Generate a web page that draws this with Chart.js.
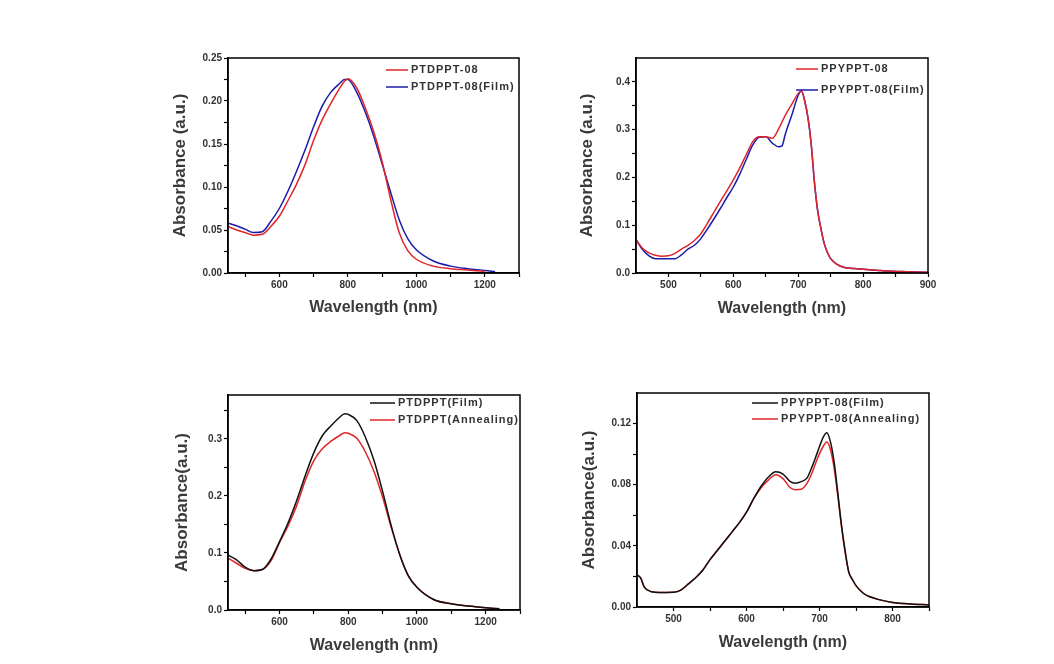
<!DOCTYPE html>
<html>
<head>
<meta charset="utf-8">
<script src="https://cdn.jsdelivr.net/npm/chart.js@4/dist/chart.umd.min.js"></script>
<style>
  body { margin: 0; background: #fff; width: 1054px; height: 664px; position: relative; overflow: hidden; }
  canvas { position: absolute; }
</style>
</head>
<body>
<canvas id="p1" width="380" height="290" style="left:160px;top:40px"></canvas>
<canvas id="p2" width="380" height="290" style="left:570px;top:40px"></canvas>
<canvas id="p3" width="380" height="290" style="left:160px;top:370px"></canvas>
<canvas id="p4" width="380" height="290" style="left:570px;top:370px"></canvas>
<script>
// top left: PTDPPT-08 solution vs film
const p1Wavelength = [450, 475, 500, 525, 550, 575, 600, 625, 650, 675, 700, 725, 750, 775, 790, 800, 825, 850, 875, 900, 925, 950, 975, 1000, 1050, 1100, 1150, 1200, 1230];
const p1Solution = [0.054, 0.050, 0.047, 0.044, 0.045, 0.054, 0.066, 0.084, 0.103, 0.126, 0.154, 0.178, 0.197, 0.214, 0.223, 0.226, 0.216, 0.193, 0.165, 0.130, 0.086, 0.047, 0.026, 0.016, 0.008, 0.005, 0.0035, 0.002, null];
const p1Film = [0.058, 0.055, 0.051, 0.047, 0.048, 0.060, 0.075, 0.095, 0.118, 0.143, 0.170, 0.194, 0.210, 0.220, 0.225, 0.225, 0.211, 0.188, 0.160, 0.127, 0.094, 0.062, 0.040, 0.027, 0.014, 0.008, 0.005, 0.003, 0.0015];

// top right: PPYPPT-08 solution vs film
const p2Wavelength = [450, 460, 470, 480, 490, 500, 510, 520, 530, 540, 550, 560, 570, 580, 590, 600, 610, 620, 630, 640, 650, 660, 670, 675, 680, 690, 700, 705, 710, 715, 720, 725, 730, 735, 740, 745, 750, 760, 770, 780, 790, 800, 820, 840, 860, 880, 900];
const p2Solution = [0.070, 0.052, 0.042, 0.037, 0.035, 0.036, 0.041, 0.050, 0.058, 0.068, 0.082, 0.104, 0.127, 0.150, 0.172, 0.195, 0.220, 0.248, 0.275, 0.285, 0.285, 0.282, 0.302, 0.316, 0.330, 0.353, 0.376, 0.381, 0.360, 0.325, 0.270, 0.190, 0.130, 0.093, 0.062, 0.043, 0.030, 0.018, 0.012, 0.010, 0.009, 0.008, 0.006, 0.004, 0.003, 0.002, 0.0015];
const p2Film = [0.070, 0.049, 0.036, 0.030, 0.030, 0.030, 0.030, 0.038, 0.050, 0.058, 0.072, 0.092, 0.113, 0.135, 0.158, 0.180, 0.207, 0.238, 0.268, 0.284, 0.285, 0.272, 0.264, 0.266, 0.290, 0.330, 0.372, 0.381, 0.360, 0.325, 0.270, 0.190, 0.130, 0.093, 0.062, 0.043, 0.030, 0.018, 0.012, 0.010, 0.009, 0.008, 0.006, 0.004, 0.003, 0.002, 0.0015];

// bottom left: PTDPPT film vs annealing
const p3Wavelength = [450, 475, 500, 525, 550, 575, 600, 625, 650, 675, 700, 725, 750, 775, 790, 800, 825, 850, 875, 900, 925, 950, 975, 1000, 1050, 1100, 1150, 1200, 1240];
const p3Film = [0.096, 0.088, 0.075, 0.069, 0.071, 0.089, 0.120, 0.153, 0.192, 0.236, 0.276, 0.306, 0.323, 0.338, 0.344, 0.343, 0.332, 0.303, 0.262, 0.208, 0.148, 0.097, 0.060, 0.040, 0.018, 0.011, 0.007, 0.004, 0.002];
const p3Annealing = [0.091, 0.082, 0.073, 0.069, 0.071, 0.086, 0.118, 0.148, 0.183, 0.227, 0.262, 0.283, 0.296, 0.306, 0.311, 0.310, 0.301, 0.277, 0.243, 0.198, 0.145, 0.097, 0.060, 0.040, 0.018, 0.011, 0.007, 0.004, 0.002];

// bottom right: PPYPPT-08 film vs annealing
const p4Wavelength = [450, 455, 460, 470, 480, 490, 500, 510, 520, 530, 540, 550, 560, 570, 580, 590, 600, 610, 620, 630, 640, 650, 660, 667, 675, 683, 690, 697, 705, 710, 715, 720, 725, 730, 735, 740, 745, 750, 760, 770, 780, 800, 825, 850];
const p4Film = [0.021, 0.019, 0.013, 0.010, 0.0095, 0.0095, 0.0096, 0.011, 0.015, 0.019, 0.024, 0.031, 0.037, 0.043, 0.049, 0.055, 0.062, 0.071, 0.079, 0.085, 0.0885, 0.087, 0.082, 0.081, 0.082, 0.0845, 0.092, 0.101, 0.111, 0.114, 0.108, 0.095, 0.075, 0.054, 0.037, 0.023, 0.018, 0.014, 0.009, 0.0065, 0.005, 0.003, 0.002, 0.0015];
const p4Annealing = [0.021, 0.019, 0.013, 0.010, 0.0095, 0.0095, 0.0096, 0.011, 0.015, 0.019, 0.024, 0.031, 0.037, 0.043, 0.049, 0.055, 0.062, 0.071, 0.078, 0.083, 0.0866, 0.084, 0.078, 0.0767, 0.077, 0.081, 0.088, 0.097, 0.105, 0.108, 0.103, 0.091, 0.073, 0.053, 0.036, 0.023, 0.018, 0.014, 0.009, 0.0065, 0.005, 0.003, 0.002, 0.0015];

// axis ticks (major ones get a label)
const p1XMajor = [600, 800, 1000, 1200];
const p1XMinor = [500, 700, 900, 1100, 1300];
const p1YMajor = [0, 0.05, 0.10, 0.15, 0.20, 0.25];
const p1YMinor = [0.025, 0.075, 0.125, 0.175, 0.225];
const p2XMajor = [500, 600, 700, 800, 900];
const p2XMinor = [550, 650, 750, 850];
const p2YMajor = [0, 0.1, 0.2, 0.3, 0.4];
const p2YMinor = [0.05, 0.15, 0.25, 0.35];
const p3XMajor = [600, 800, 1000, 1200];
const p3XMinor = [500, 700, 900, 1100, 1300];
const p3YMajor = [0, 0.1, 0.2, 0.3];
const p3YMinor = [0.05, 0.15, 0.25, 0.35];
const p4XMajor = [500, 600, 700, 800];
const p4XMinor = [550, 650, 750, 850];
const p4YMajor = [0, 0.04, 0.08, 0.12];
const p4YMinor = [0.02, 0.06, 0.10];

const RED = '#e0252a';
const BLUE = '#1c1caa';
const BLACK = '#111111';
const TEXT = '#333333';
const FONT = '"Liberation Sans", Arial, sans-serif';

// frame round the plot area + small legend drawn inside it
const framePlugin = {
    id: 'frameLegend',
    afterDraw(chart, args, opts) {
        const c = chart.ctx;
        const a = chart.chartArea;
        c.save();
        c.strokeStyle = '#000';
        c.lineWidth = 1.5;
        c.strokeRect(a.left, a.top, a.right - a.left, a.bottom - a.top);
        c.font = 'bold 11px ' + FONT;
        if ('letterSpacing' in c) c.letterSpacing = '1px';
        c.textBaseline = 'middle';
        chart.data.datasets.forEach((ds, i) => {
            const y = a.top + opts.y + i * opts.dy;
            const x = a.left + opts.x;
            c.strokeStyle = ds.borderColor;
            c.lineWidth = 1.5;
            c.beginPath();
            c.moveTo(x, y);
            c.lineTo(x + opts.line, y);
            c.stroke();
            c.fillStyle = TEXT;
            c.fillText(ds.label, x + opts.line + 3, y);
        });
        c.restore();
    }
};

const tickSet = (major, minor, digits) => ({
    afterBuildTicks: (scale) => {
        scale.ticks = major.concat(minor).sort((a, b) => a - b).map(v => ({ value: v }));
    },
    callback: (v) => major.includes(v) ? v.toFixed(digits) : ''
});

const makePanel = (id, p) => {
    const xt = tickSet(p.xMajor, p.xMinor, 0);
    const yt = tickSet(p.yMajor, p.yMinor, p.yDigits);
    return new Chart(document.getElementById(id), {
        type: 'line',
        data: {
            datasets: p.series.map(s => ({
                label: s.label,
                data: p.x.map((w, i) => ({ x: w, y: s.values[i] })),
                borderColor: s.color,
                borderWidth: 1.5,
                pointRadius: 0,
                cubicInterpolationMode: 'monotone',
                fill: false
            }))
        },
        options: {
            responsive: false,
            animation: false,
            layout: { padding: { top: p.padTop, right: p.padRight, left: 0, bottom: 0 } },
            plugins: {
                legend: { display: false },
                tooltip: { enabled: false },
                frameLegend: p.legend
            },
            scales: {
                x: {
                    type: 'linear',
                    min: p.xMin, max: p.xMax,
                    afterFit: (s) => { s.height = p.xH; },
                    afterBuildTicks: xt.afterBuildTicks,
                    grid: { drawOnChartArea: false, tickLength: 4, tickColor: '#000', tickWidth: 1.2 },
                    border: { color: '#000', width: 1.5 },
                    ticks: { callback: xt.callback, autoSkip: false, maxRotation: 0, padding: 2, color: TEXT,
                             font: { family: FONT, size: 10, weight: 'bold' } },
                    title: { display: true, text: 'Wavelength (nm)', color: '#3a3a3a',
                             font: { family: FONT, size: 16, weight: 'bold' },
                             padding: { top: 0, bottom: p.xTitlePad } }
                },
                y: {
                    min: 0, max: p.yMax,
                    afterFit: (s) => { s.width = p.yW; },
                    afterBuildTicks: yt.afterBuildTicks,
                    grid: { drawOnChartArea: false, tickLength: 4, tickColor: '#000', tickWidth: 1.2 },
                    border: { color: '#000', width: 1.5 },
                    ticks: { callback: yt.callback, autoSkip: false, padding: 2, color: TEXT,
                             font: { family: FONT, size: 10, weight: 'bold' } },
                    title: { display: true, text: p.yTitle, color: '#3a3a3a',
                             font: { family: FONT, size: 17, weight: 'bold' },
                             padding: { top: p.yTitlePad, bottom: 0 } }
                }
            }
        },
        plugins: [framePlugin]
    });
};

makePanel('p1', {
    x: p1Wavelength,
    series: [
        { label: 'PTDPPT-08', values: p1Solution, color: RED },
        { label: 'PTDPPT-08(Film)', values: p1Film, color: BLUE }
    ],
    xMin: 450, xMax: 1300, yMax: 0.25, yDigits: 2,
    xMajor: p1XMajor, xMinor: p1XMinor, yMajor: p1YMajor, yMinor: p1YMinor,
    padTop: 18, padRight: 21, yW: 68, xH: 57, yTitlePad: 10, xTitlePad: 13,
    yTitle: 'Absorbance (a.u.)',
    legend: { x: 158, y: 12, dy: 17, line: 22 }
});

makePanel('p2', {
    x: p2Wavelength,
    series: [
        { label: 'PPYPPT-08', values: p2Solution, color: RED },
        { label: 'PPYPPT-08(Film)', values: p2Film, color: BLUE }
    ],
    xMin: 450, xMax: 900, yMax: 0.45, yDigits: 1,
    xMajor: p2XMajor, xMinor: p2XMinor, yMajor: p2YMajor, yMinor: p2YMinor,
    padTop: 18, padRight: 22, yW: 66, xH: 57, yTitlePad: 7, xTitlePad: 12,
    yTitle: 'Absorbance (a.u.)',
    legend: { x: 160, y: 11, dy: 21, line: 22 }
});

makePanel('p3', {
    x: p3Wavelength,
    series: [
        { label: 'PTDPPT(Film)', values: p3Film, color: BLACK },
        { label: 'PTDPPT(Annealing)', values: p3Annealing, color: RED }
    ],
    xMin: 450, xMax: 1300, yMax: 0.377, yDigits: 1,
    xMajor: p3XMajor, xMinor: p3XMinor, yMajor: p3YMajor, yMinor: p3YMinor,
    padTop: 25, padRight: 20, yW: 68, xH: 50, yTitlePad: 12, xTitlePad: 5,
    yTitle: 'Absorbance(a.u.)',
    legend: { x: 142, y: 8, dy: 17, line: 25 }
});

makePanel('p4', {
    x: p4Wavelength,
    series: [
        { label: 'PPYPPT-08(Film)', values: p4Film, color: BLACK },
        { label: 'PPYPPT-08(Annealing)', values: p4Annealing, color: RED }
    ],
    xMin: 450, xMax: 850, yMax: 0.14, yDigits: 2,
    xMajor: p4XMajor, xMinor: p4XMinor, yMajor: p4YMajor, yMinor: p4YMinor,
    padTop: 23, padRight: 21, yW: 67, xH: 53, yTitlePad: 9, xTitlePad: 8,
    yTitle: 'Absorbance(a.u.)',
    legend: { x: 115, y: 10, dy: 16, line: 26 }
});
</script>
</body>
</html>
